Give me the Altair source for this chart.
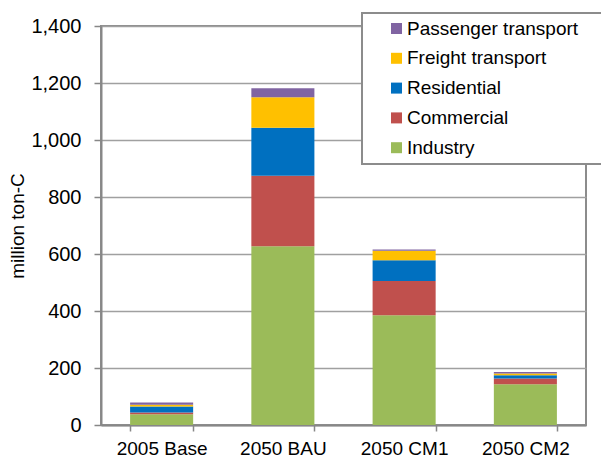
import altair as alt
import pandas as pd

scenarios = ["2005 Base", "2050 BAU", "2050 CM1", "2050 CM2"]
sectors = ["Passenger transport", "Freight transport", "Residential", "Commercial", "Industry"]
colors = ["#8064A2", "#FFC000", "#0070C0", "#C0504D", "#9BBB59"]

industry = [38, 627, 385, 143]
commercial = [6, 248, 120, 20]
residential = [21, 168, 73, 12]
freight = [6, 107, 33, 6]
passenger = [8, 32, 5, 5]

series = {
    "Industry": industry,
    "Commercial": commercial,
    "Residential": residential,
    "Freight transport": freight,
    "Passenger transport": passenger,
}
stack_order = ["Industry", "Commercial", "Residential", "Freight transport", "Passenger transport"]

rows = []
for s in stack_order:
    for i, sc in enumerate(scenarios):
        rows.append({"scenario": sc, "sector": s, "value": series[s][i], "ord": stack_order.index(s)})
df = pd.DataFrame(rows)

FONT = "Liberation Sans"

chart = alt.Chart(df).mark_bar().encode(
    x=alt.X("scenario:N", sort=scenarios,
            scale=alt.Scale(paddingInner=0.48, paddingOuter=0.24),
            axis=alt.Axis(title=None, labelAngle=0, tickBand="extent", tickSize=6,
                          labelPadding=8, labelFontSize=19, domainWidth=2,
                          domainColor="#878787", tickColor="#878787", tickWidth=1.5,
                          grid=False)),
    y=alt.Y("value:Q", stack="zero",
            scale=alt.Scale(domain=[0, 1400], nice=False),
            axis=alt.Axis(title="million ton-C", values=[0, 200, 400, 600, 800, 1000, 1200, 1400],
                          format=",d", tickSize=7, labelPadding=13, labelFontSize=20,
                          titleFontSize=19, titleFontWeight="normal", titlePadding=3,
                          domainWidth=2, domainColor="#878787", tickColor="#878787",
                          tickWidth=1.5, gridColor="#A0A0A0", gridWidth=1.5)),
    color=alt.Color("sector:N",
                    scale=alt.Scale(domain=sectors, range=colors),
                    legend=alt.Legend(title="\u200b", titleOrient="right", titlePadding=30,
                                      orient="none", legendX=261, legendY=-13,
                                      symbolType="square", symbolSize=121, symbolStrokeWidth=0,
                                      symbolOffset=19, labelOffset=1, labelFontSize=19,
                                      rowPadding=9.8, padding=6, strokeColor="#8C8C8C",
                                      fillColor="white", labelLimit=400)),
    order=alt.Order("ord:Q", sort="ascending"),
).properties(
    width=485, height=399,
    autosize=alt.AutoSizeParams(type="none"),
    padding={"left": 93, "top": 18, "right": 15, "bottom": 33},
).configure(
    font=FONT,
).configure_axis(
    labelColor="black", titleColor="black", labelFont=FONT, titleFont=FONT,
).configure_legend(
    labelColor="black", labelFont=FONT, strokeWidth=2,
).configure_view(
    stroke="#8C8C8C", strokeWidth=2,
)

chart.save("out.html", embed_options={"renderer": "svg", "actions": False})
